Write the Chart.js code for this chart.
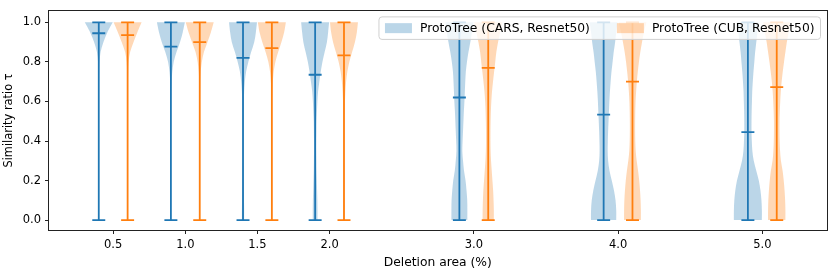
<!DOCTYPE html>
<html><head><meta charset="utf-8">
<script src="https://cdn.jsdelivr.net/npm/chart.js@4/dist/chart.umd.min.js"></script>
<style>html,body{margin:0;padding:0;background:#fff;}#wrap{width:830px;height:275px;}</style>
</head><body><div id="wrap"><canvas id="c" width="830" height="275"></canvas></div>
<script>
// ---------------- data ----------------
const deletionAreas = [0.5, 1.0, 1.5, 2.0, 3.0, 4.0, 5.0];
const xTickValues = [0.5, 1.0, 1.5, 2.0, 3.0, 4.0, 5.0];
const yTickValues = [0.0, 0.2, 0.4, 0.6, 0.8, 1.0];
const seriesNames = ['ProtoTree (CARS, Resnet50)', 'ProtoTree (CUB, Resnet50)'];

const carsMean = [0.945, 0.877, 0.820, 0.735, 0.620, 0.533, 0.445];
const cubMean  = [0.935, 0.900, 0.870, 0.833, 0.770, 0.700, 0.673];
const carsMin = [0, 0, 0, 0, 0, 0, 0];
const carsMax = [1, 1, 1, 1, 1, 1, 1];
const cubMin  = [0, 0, 0, 0, 0, 0, 0];
const cubMax  = [1, 1, 1, 1, 1, 1, 1];

const densityLevels = [0.00, 0.05, 0.10, 0.15, 0.20, 0.25, 0.30, 0.35, 0.40, 0.45, 0.50,
                       0.55, 0.60, 0.65, 0.70, 0.75, 0.80, 0.85, 0.90, 0.95, 1.00];

const carsDensity = [
  [.015,.015,.015,.015,.015,.015,.015,.015,.015,.015,.015,.015,.015,.015,.02,.03,.05,.13,.33,.62,1],
  [.02,.02,.02,.02,.02,.02,.02,.02,.02,.02,.02,.02,.02,.03,.05,.10,.20,.40,.65,.85,1],
  [.08,.08,.07,.06,.05,.045,.04,.04,.04,.04,.04,.05,.06,.08,.13,.22,.38,.58,.80,.92,1],
  [.17,.17,.16,.14,.12,.10,.09,.08,.08,.09,.10,.13,.16,.21,.30,.40,.52,.68,.84,.93,1],
  [.57,.57,.56,.51,.44,.33,.26,.21,.23,.26,.29,.32,.36,.39,.42,.46,.54,.65,.78,.90,1],
  [.90,.90,.85,.74,.58,.42,.32,.29,.30,.32,.35,.38,.41,.45,.50,.56,.64,.72,.82,.90,1],
  [1,1,.97,.90,.78,.60,.42,.32,.28,.26,.26,.27,.29,.31,.35,.40,.46,.52,.60,.68,.75]
];
const cubDensity = [
  [.015,.015,.015,.015,.015,.015,.015,.015,.015,.015,.015,.015,.015,.015,.025,.04,.07,.18,.42,.70,1],
  [.02,.02,.02,.02,.02,.02,.02,.02,.02,.02,.02,.02,.02,.03,.04,.07,.15,.30,.55,.80,1],
  [.025,.025,.025,.025,.025,.025,.025,.025,.025,.025,.025,.025,.025,.04,.07,.13,.25,.45,.68,.88,1],
  [.07,.07,.06,.05,.05,.045,.04,.04,.04,.045,.05,.06,.07,.10,.15,.24,.38,.58,.78,.92,1],
  [.40,.40,.38,.35,.30,.25,.20,.17,.16,.16,.17,.19,.22,.27,.34,.42,.50,.58,.70,.85,1],
  [.60,.60,.58,.54,.48,.40,.30,.23,.20,.19,.19,.20,.22,.26,.31,.38,.46,.56,.68,.82,1],
  [.62,.62,.60,.56,.50,.42,.30,.24,.21,.20,.20,.22,.25,.29,.35,.43,.52,.62,.72,.85,.96]
];

// ---------------- styling / layout constants ----------------
const FONT = 'DejaVu Sans';
const BLUE = '#1f77b4', ORANGE = '#ff7f0e';
const BLUE_FILL = 'rgba(31,119,180,0.3)', ORANGE_FILL = 'rgba(255,127,14,0.3)';
const GROUP_OFFSET = 0.1;     // side-by-side offset in x units
const BODY_HALF = 0.097;      // max half width of a violin body (x units)
const CAP_HALF = 0.045;       // half length of caps / mean bars (x units)

const groups = [
  {name: seriesNames[0], offset: -GROUP_OFFSET, mean: carsMean, min: carsMin, max: carsMax, dens: carsDensity, line: BLUE, fill: BLUE_FILL},
  {name: seriesNames[1], offset:  GROUP_OFFSET, mean: cubMean,  min: cubMin,  max: cubMax,  dens: cubDensity,  line: ORANGE, fill: ORANGE_FILL}
];

function smoothThrough(ctx, pts) {
  for (let k = 0; k < pts.length - 1; k++) {
    const p0 = pts[k - 1] || pts[k], p1 = pts[k], p2 = pts[k + 1], p3 = pts[k + 2] || pts[k + 1];
    ctx.bezierCurveTo(p1.x + (p2.x - p0.x) / 6, p1.y + (p2.y - p0.y) / 6,
                      p2.x - (p3.x - p1.x) / 6, p2.y - (p3.y - p1.y) / 6, p2.x, p2.y);
  }
}

const violinPlugin = {
  id: 'violins',
  beforeDatasetsDraw(chart) {
    const {ctx, chartArea: ca, scales: {x, y}} = chart;
    ctx.save();
    ctx.beginPath(); ctx.rect(ca.left, ca.top, ca.right - ca.left, ca.bottom - ca.top); ctx.clip();
    groups.forEach(g => {
      deletionAreas.forEach((a, i) => {
        const pos = a + g.offset;
        const d = g.dens[i];
        const right = densityLevels.map((lv, k) => ({x: x.getPixelForValue(pos + d[k] * BODY_HALF), y: y.getPixelForValue(lv)}));
        const left = densityLevels.map((lv, k) => ({x: x.getPixelForValue(pos - d[k] * BODY_HALF), y: y.getPixelForValue(lv)})).reverse();
        ctx.beginPath();
        ctx.moveTo(right[0].x, right[0].y);
        smoothThrough(ctx, right);
        ctx.lineTo(left[0].x, left[0].y);
        smoothThrough(ctx, left);
        ctx.closePath();
        ctx.fillStyle = g.fill;
        ctx.fill();
      });
      ctx.strokeStyle = g.line;
      ctx.lineWidth = 1.8;
      deletionAreas.forEach((a, i) => {
        const pos = a + g.offset;
        const cx = x.getPixelForValue(pos);
        const x0 = x.getPixelForValue(pos - CAP_HALF), x1 = x.getPixelForValue(pos + CAP_HALF);
        const yMin = y.getPixelForValue(g.min[i]), yMax = y.getPixelForValue(g.max[i]), yMean = y.getPixelForValue(g.mean[i]);
        ctx.beginPath();
        ctx.moveTo(cx, yMin); ctx.lineTo(cx, yMax);
        ctx.moveTo(x0, yMin); ctx.lineTo(x1, yMin);
        ctx.moveTo(x0, yMax); ctx.lineTo(x1, yMax);
        ctx.moveTo(x0, yMean); ctx.lineTo(x1, yMean);
        ctx.stroke();
      });
    });
    ctx.restore();
  },
  afterDraw(chart) {
    const {ctx, chartArea: ca} = chart;
    ctx.save();
    // frame (spines)
    ctx.strokeStyle = '#222';
    ctx.lineWidth = 1;
    ctx.strokeRect(Math.round(ca.left) - 0.5, Math.round(ca.top) - 0.5, Math.round(ca.right - ca.left) + 1, Math.round(ca.bottom - ca.top) + 1);
    // legend
    const fs = 12.3;
    ctx.font = fs + 'px "' + FONT + '"';
    const pad = 6, handleW = 27, handleH = 10, textGap = 8, colGap = 27;
    const tw = groups.map(g => ctx.measureText(g.name).width);
    const innerW = handleW + textGap + tw[0] + colGap + handleW + textGap + tw[1];
    const boxW = innerW + 2 * pad;
    const boxH = 22.5;
    const bx = ca.right - 6 - boxW;
    const by = ca.top + 6;
    const r = 3;
    ctx.beginPath();
    ctx.moveTo(bx + r, by); ctx.lineTo(bx + boxW - r, by); ctx.arcTo(bx + boxW, by, bx + boxW, by + r, r);
    ctx.lineTo(bx + boxW, by + boxH - r); ctx.arcTo(bx + boxW, by + boxH, bx + boxW - r, by + boxH, r);
    ctx.lineTo(bx + r, by + boxH); ctx.arcTo(bx, by + boxH, bx, by + boxH - r, r);
    ctx.lineTo(bx, by + r); ctx.arcTo(bx, by, bx + r, by, r); ctx.closePath();
    ctx.fillStyle = 'rgba(255,255,255,0.8)';
    ctx.fill();
    ctx.strokeStyle = '#d0d0d0';
    ctx.stroke();
    let cx = bx + pad;
    const cy = by + boxH / 2;
    groups.forEach((g, i) => {
      ctx.fillStyle = g.fill;
      ctx.fillRect(cx, cy - handleH / 2, handleW, handleH);
      cx += handleW + textGap;
      ctx.fillStyle = '#000';
      ctx.textBaseline = 'middle';
      ctx.textAlign = 'left';
      ctx.fillText(g.name, cx, cy + 0.5);
      cx += tw[i] + colGap;
    });
    ctx.restore();
  }
};

Chart.defaults.font.family = FONT;
Chart.defaults.color = '#000';

const tickFont = {family: FONT, size: 11.5};
new Chart(document.getElementById('c').getContext('2d'), {
  type: 'scatter',
  data: {
    datasets: groups.map(g => ({
      label: g.name,
      data: deletionAreas.map((a, i) => ({x: a + g.offset, y: g.mean[i]})),
      pointRadius: 0, pointHoverRadius: 0, showLine: false,
      borderColor: g.line, backgroundColor: g.fill
    }))
  },
  options: {
    responsive: false,
    devicePixelRatio: 1,
    animation: false,
    events: [],
    layout: {padding: {top: 4, right: 3.5, left: 0, bottom: 0}},
    plugins: {legend: {display: false}, tooltip: {enabled: false}},
    scales: {
      x: {
        type: 'linear', min: 0.055, max: 5.445,
        afterBuildTicks: s => { s.ticks = xTickValues.map(v => ({value: v})); },
        afterFit: s => { s.height = 45; },
        ticks: {font: tickFont, color: '#000', padding: 4, maxRotation: 0, autoSkip: false,
                callback: v => Number(v).toFixed(1)},
        grid: {display: true, drawOnChartArea: false, drawTicks: true, tickLength: 4, tickColor: '#222', tickWidth: 1},
        border: {display: false},
        title: {display: true, text: 'Deletion area (%)', font: {family: FONT, size: 12.3}, color: '#000', padding: {top: 0, bottom: 4.5}}
      },
      y: {
        type: 'linear', min: -0.05, max: 1.058,
        afterBuildTicks: s => { s.ticks = yTickValues.map(v => ({value: v})); },
        afterFit: s => { s.width = 49; },
        ticks: {font: tickFont, color: '#000', padding: 4, autoSkip: false,
                callback: v => Number(v).toFixed(1)},
        grid: {display: true, drawOnChartArea: false, drawTicks: true, tickLength: 4, tickColor: '#222', tickWidth: 1},
        border: {display: false},
        title: {display: true, text: 'Similarity ratio τ', font: {family: FONT, size: 11.4}, color: '#000', padding: {top: 2, bottom: 0}}
      }
    }
  },
  plugins: [violinPlugin]
});
</script>
</body></html>
